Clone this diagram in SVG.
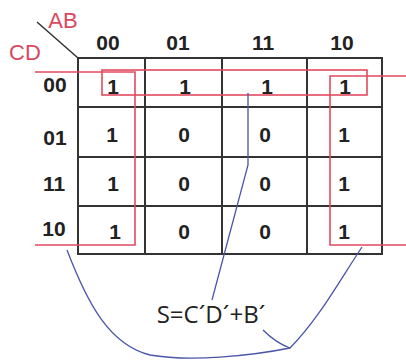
<svg xmlns="http://www.w3.org/2000/svg" width="406" height="360" viewBox="0 0 406 360">
<style>
.g{stroke:#333;stroke-width:2;fill:none}
.v{font-family:"Liberation Sans",Arial,sans-serif;font-weight:bold;font-size:21px;fill:#222;text-anchor:middle}
.lab{font-family:"Liberation Sans",Arial,sans-serif;font-size:22px;fill:#d9485f;text-anchor:middle}
.r{stroke:#e24a60;stroke-width:1.6;fill:none}
.b{stroke:#4a55a8;stroke-width:1.3;fill:none}
.f{font-family:"Open Sans","Liberation Sans",sans-serif;font-size:24px;fill:#222;text-anchor:middle}
</style>
<rect width="406" height="360" fill="#fff"/>
<g id="kmap-grid">
<rect class="g" x="78" y="58" width="304" height="196"/>
<path class="g" d="M145,58V254M222,58V254M307,58V254M78,107H382M78,157H382M78,206H382"/>
<path d="M37,22L78,58" stroke="#333" stroke-width="1.5"/>
</g>
<g id="axis-labels">
<text class="lab" x="63" y="28">AB</text>
<text class="lab" x="25" y="60">CD</text>
</g>
<g id="col-headers">
<text class="v" x="108" y="50">00</text>
<text class="v" x="178" y="50">01</text>
<text class="v" x="263" y="50">11</text>
<text class="v" x="342" y="50">10</text>
</g>
<g id="row-headers">
<text class="v" x="55" y="92">00</text>
<text class="v" x="55" y="145">01</text>
<text class="v" x="54" y="191">11</text>
<text class="v" x="54" y="236">10</text>
</g>
<g id="cells">
<text class="v" x="113" y="94">1</text><text class="v" x="185" y="94">1</text><text class="v" x="267" y="94">1</text><text class="v" x="345" y="94">1</text>
<text class="v" x="112" y="142">1</text><text class="v" x="184" y="142">0</text><text class="v" x="265" y="142">0</text><text class="v" x="344" y="142">1</text>
<text class="v" x="113" y="191">1</text><text class="v" x="184" y="191">0</text><text class="v" x="265" y="191">0</text><text class="v" x="344" y="191">1</text>
<text class="v" x="115" y="239">1</text><text class="v" x="184" y="239">0</text><text class="v" x="265" y="239">0</text><text class="v" x="344" y="239">1</text>
</g>
<g id="groups">
<rect class="r" x="102" y="70" width="265" height="25"/>
<path class="r" d="M35,72H135V245H35"/>
<path class="r" d="M406,76H330V245H406"/>
</g>
<g id="formula">
<text class="f" x="211" y="323">S=C´D´+B´</text>
</g>
<g id="connectors">
<path class="b" d="M248,93V165L212,300"/>
<path class="b" d="M67,250C88,305 110,345 150,355C190,362 250,356 290,348C318,320 340,280 362,247"/>
<path class="b" d="M263,330Q276,343 290,348"/>
</g>
</svg>
